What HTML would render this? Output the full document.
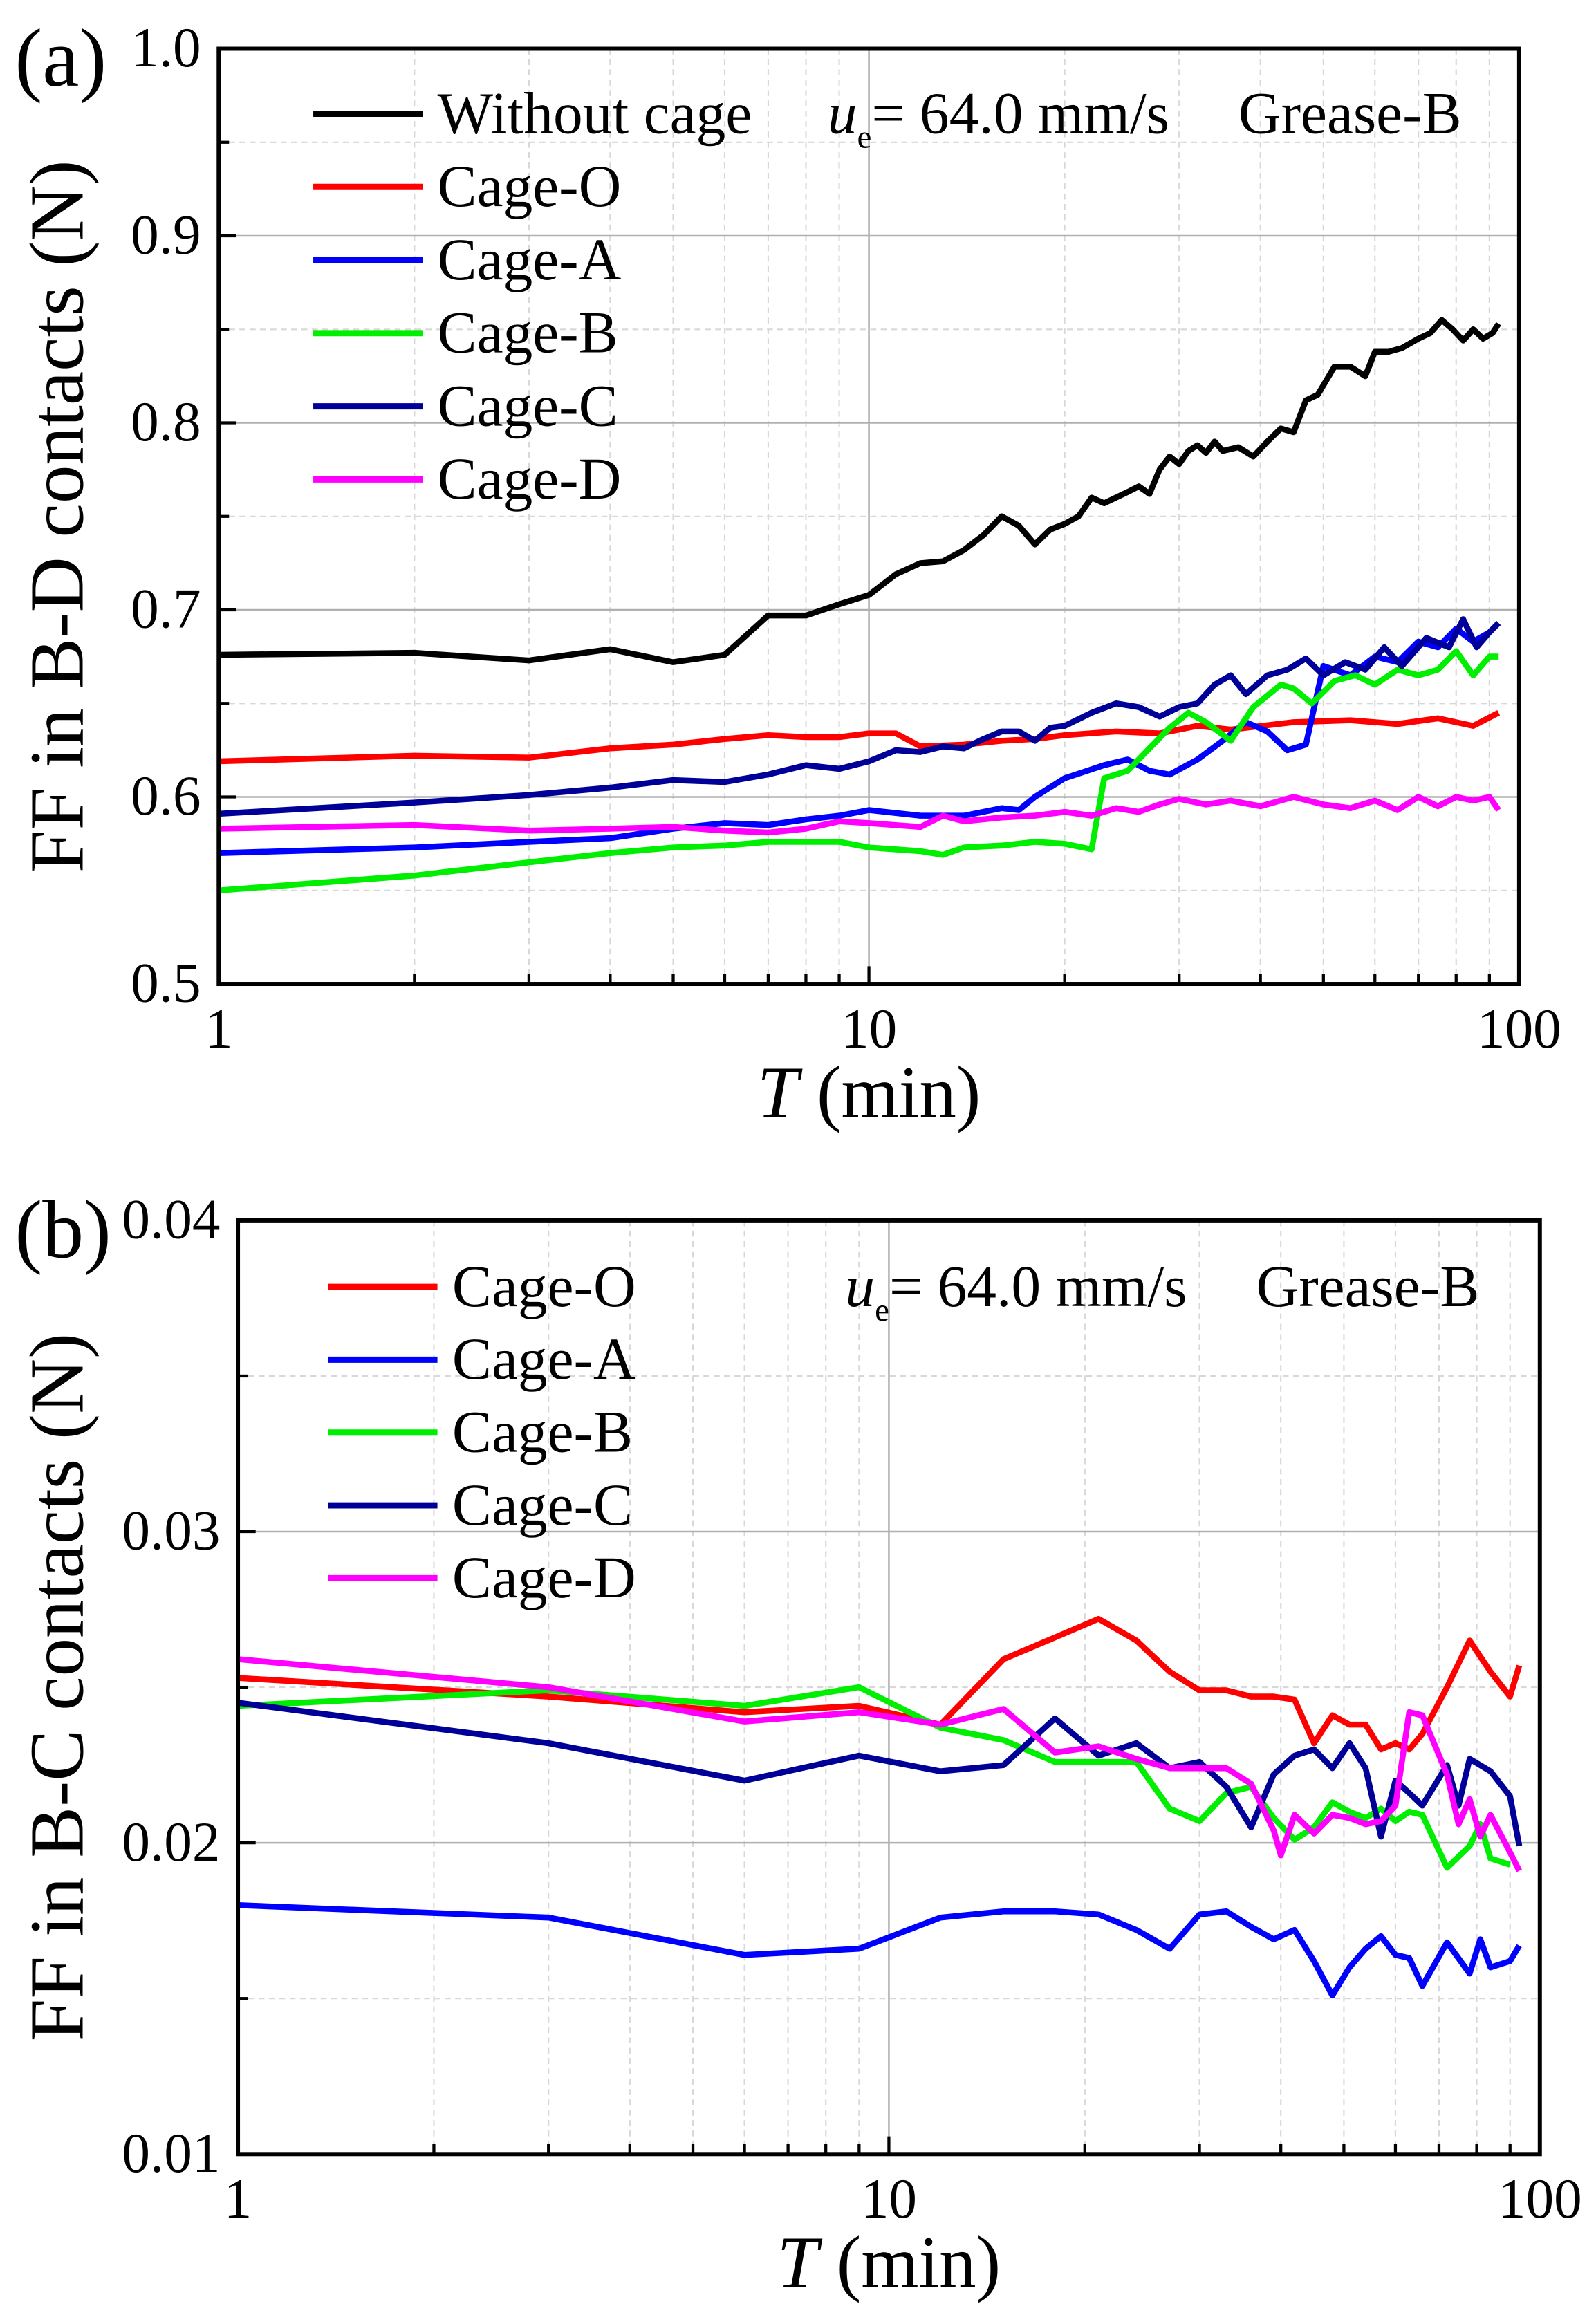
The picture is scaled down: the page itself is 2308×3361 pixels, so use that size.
<!DOCTYPE html>
<html><head><meta charset="utf-8"><style>
html,body{margin:0;padding:0;background:#fff}
svg{display:block}
text{font-family:"Liberation Serif",serif;fill:#000}
</style></head><body>
<svg id="chart" width="2308" height="3361" viewBox="0 0 1080 1573" preserveAspectRatio="none" xmlns="http://www.w3.org/2000/svg">
</svg>
<script>
// ---------- Panel (a) data ----------
const aSeriesNames = ["Without cage","Cage-O","Cage-A","Cage-B","Cage-C","Cage-D"];
const aColors = ["#000000","#ff0000","#0000ff","#00ee00","#000099","#ff00ff"];
const aNoCageX = [1,2,3,4,5,6,7,8,9,10,11,12,13,14,15,16,17,18,19,20,21,22,23,25,26,27,28,29,30,31,32,33,34,35,37,39,41,43,45,47,49,52,55,58,60,63,66,70,73,76,79,82,85,88,91,93];
const aNoCageY = [0.676,0.677,0.673,0.679,0.672,0.676,0.697,0.697,0.703,0.708,0.719,0.725,0.726,0.732,0.740,0.750,0.745,0.735,0.743,0.746,0.750,0.760,0.757,0.763,0.766,0.762,0.775,0.782,0.778,0.785,0.788,0.784,0.790,0.785,0.787,0.782,0.790,0.797,0.795,0.812,0.815,0.830,0.830,0.825,0.838,0.838,0.840,0.845,0.848,0.855,0.850,0.844,0.850,0.845,0.848,0.853];
const aOX = [1,2,3,4,5,6,7,8,9,10,11,12,14,16,18,20,24,28,32,36,45,55,65,75,85,93];
const aOY = [0.619,0.622,0.621,0.626,0.628,0.631,0.633,0.632,0.632,0.634,0.634,0.627,0.628,0.630,0.631,0.633,0.635,0.634,0.638,0.636,0.640,0.641,0.639,0.642,0.638,0.645];
const aAX = [1,2,3,4,5,6,7,8,9,10,12,14,16,17,18,20,23,25,27,29,32,35,38,41,44,47,50,55,60,65,70,75,80,85,90,93];
const aAY = [0.570,0.573,0.576,0.578,0.583,0.586,0.585,0.588,0.590,0.593,0.590,0.590,0.594,0.593,0.600,0.610,0.617,0.620,0.614,0.612,0.620,0.630,0.640,0.635,0.625,0.628,0.670,0.665,0.675,0.672,0.683,0.680,0.690,0.683,0.688,0.693];
const aBX = [1,2,3,4,5,6,7,8,9,10,12,13,14,16,18,20,22,23,25,27,29,31,33,36,39,43,45,48,52,56,60,65,70,75,80,85,90,93];
const aBY = [0.550,0.558,0.565,0.570,0.573,0.574,0.576,0.576,0.576,0.573,0.571,0.569,0.573,0.574,0.576,0.575,0.572,0.610,0.614,0.626,0.637,0.645,0.640,0.630,0.648,0.660,0.658,0.650,0.662,0.665,0.660,0.668,0.665,0.668,0.678,0.665,0.675,0.675];
const aCX = [1,2,3,4,5,6,7,8,9,10,11,12,13,14,15,16,17,18,19,20,22,24,26,28,30,32,34,36,38,41,44,47,50,54,58,62,66,72,78,82,86,90,93];
const aCY = [0.591,0.597,0.601,0.605,0.609,0.608,0.612,0.617,0.615,0.619,0.625,0.624,0.627,0.626,0.631,0.635,0.635,0.630,0.637,0.638,0.645,0.650,0.648,0.643,0.648,0.650,0.660,0.665,0.655,0.665,0.668,0.674,0.665,0.672,0.668,0.680,0.670,0.685,0.680,0.695,0.680,0.688,0.693];
const aDX = [1,2,3,4,5,6,7,8,9,10,12,13,14,16,18,20,22,24,26,28,30,33,36,40,45,50,55,60,65,70,75,80,85,90,93];
const aDY = [0.583,0.585,0.582,0.583,0.584,0.582,0.581,0.583,0.587,0.586,0.584,0.590,0.587,0.589,0.590,0.592,0.590,0.594,0.592,0.596,0.599,0.596,0.598,0.595,0.600,0.596,0.594,0.598,0.593,0.600,0.595,0.600,0.598,0.600,0.593];
const aYTicks = [0.5,0.6,0.7,0.8,0.9,1.0];
const aYTickLabels = ["0.5","0.6","0.7","0.8","0.9","1.0"];

// ---------- Panel (b) data ----------
const bSeriesNames = ["Cage-O","Cage-A","Cage-B","Cage-C","Cage-D"];
const bColors = ["#ff0000","#0000ff","#00ee00","#000099","#ff00ff"];
const bOX = [1,3,6,9,12,15,18,21,24,27,30,33,36,39,42,45,48,51,54,57,60,63,66,72,78,84,90,93];
const bOY = [0.0253,0.0247,0.0242,0.0244,0.0238,0.0259,0.0266,0.0272,0.0265,0.0255,0.0249,0.0249,0.0247,0.0247,0.0246,0.0232,0.0241,0.0238,0.0238,0.0230,0.0232,0.0230,0.0235,0.0250,0.0265,0.0255,0.0247,0.0257];
const bAX = [1,3,6,9,12,15,18,21,24,27,30,33,36,39,42,45,48,51,54,57,60,63,66,72,78,81,84,90,93];
const bAY = [0.0180,0.0176,0.0164,0.0166,0.0176,0.0178,0.0178,0.0177,0.0172,0.0166,0.0177,0.0178,0.0173,0.0169,0.0172,0.0162,0.0151,0.0160,0.0166,0.0170,0.0164,0.0163,0.0154,0.0168,0.0158,0.0169,0.0160,0.0162,0.0167];
const bBX = [1,3,6,9,12,15,18,21,24,27,30,33,36,39,42,45,48,51,54,57,60,63,66,72,78,81,84,90];
const bBY = [0.0244,0.0249,0.0244,0.0250,0.0237,0.0233,0.0226,0.0226,0.0226,0.0211,0.0207,0.0216,0.0218,0.0208,0.0201,0.0205,0.0213,0.0210,0.0208,0.0211,0.0207,0.0210,0.0209,0.0192,0.0199,0.0206,0.0195,0.0193];
const bCX = [1,3,6,9,12,15,18,21,24,27,30,33,36,39,42,45,48,51,54,57,60,63,66,72,75,78,84,90,93];
const bCY = [0.0245,0.0232,0.0220,0.0228,0.0223,0.0225,0.0240,0.0228,0.0232,0.0224,0.0226,0.0218,0.0205,0.0222,0.0228,0.0230,0.0224,0.0232,0.0224,0.0202,0.0220,0.0216,0.0212,0.0225,0.0212,0.0227,0.0223,0.0215,0.0199];
const bDX = [1,3,6,9,12,15,18,21,24,27,30,33,36,39,40,42,45,48,51,54,57,60,63,66,72,75,78,81,84,90,93];
const bDY = [0.0259,0.0250,0.0239,0.0242,0.0238,0.0243,0.0229,0.0231,0.0227,0.0224,0.0224,0.0224,0.0219,0.0204,0.0196,0.0209,0.0203,0.0209,0.0208,0.0206,0.0207,0.0212,0.0242,0.0241,0.0222,0.0206,0.0214,0.0202,0.0209,0.0197,0.0191];
const bYTicks = [0.01,0.02,0.03,0.04];
const bYTickLabels = ["0.01","0.02","0.03","0.04"];
const xTickVals = [1,10,100];
const xTickLabels = ["1","10","100"];

const NS = "http://www.w3.org/2000/svg";
const svg = document.getElementById('chart');
function mk(tag, attrs, parent){const e=document.createElementNS(NS,tag);for(const k in attrs)e.setAttribute(k,attrs[k]);(parent||svg).appendChild(e);return e;}

function panel(cfg){
  const g = mk('g',{});
  
  
  const L=cfg.L,R=cfg.R,T=cfg.T,B=cfg.B;
  const xs = v => L + (R-L)*Math.log10(v)/2;
  const ys = v => B - (B-T)*(v-cfg.ymin)/(cfg.ymax-cfg.ymin);
  for(let d=1; d<100; d*=10){
    for(let m=2;m<=9;m++){
      const x=xs(d*m);
      const ln=mk('line',{x1:x,x2:x,y1:T,y2:B,stroke:'#d8d8d8','stroke-width':1,'stroke-dasharray':'4,3'},g);
      
      
      const tk=mk('line',{x1:x,x2:x,y1:B,y2:B-7,stroke:'#000','stroke-width':2},g);
      
      
    }
  }
  const vx=xs(10);
  const vg=mk('line',{x1:vx,x2:vx,y1:T,y2:B,stroke:'#b0b0b0','stroke-width':1.2},g);
  
  
  for(let i=0;i<cfg.yt.length;i++){
    const y=ys(cfg.yt[i]);
    if(i>0 && i<cfg.yt.length-1){
      const hl=mk('line',{x1:L,x2:R,y1:y,y2:y,stroke:'#b0b0b0','stroke-width':1.2},g);
      
      
    }
    if(i<cfg.yt.length-1){
      const ym=ys((cfg.yt[i]+cfg.yt[i+1])/2);
      const hm=mk('line',{x1:L,x2:R,y1:ym,y2:ym,stroke:'#d8d8d8','stroke-width':1,'stroke-dasharray':'4,3'},g);
      
      
      const mt=mk('line',{x1:L,x2:L+7,y1:ym,y2:ym,stroke:'#000','stroke-width':2},g);
      
      
    }
    const t=mk('line',{x1:L,x2:L+12,y1:y,y2:y,stroke:'#000','stroke-width':2},g);
    
    
    const tl=mk('text',{x:L-12,y:y+12,'text-anchor':'end','font-size':38},g);
    tl.textContent=cfg.ytl[i];
    
    
  }
  for(let i=0;i<xTickVals.length;i++){
    const x=xs(xTickVals[i]);
    const t=mk('line',{x1:x,x2:x,y1:B,y2:B-12,stroke:'#000','stroke-width':2},g);
    
    
    const tl=mk('text',{x:x,y:B+43,'text-anchor':'middle','font-size':38},g);
    tl.textContent=xTickLabels[i];
    
    
  }
  for(let s=0;s<cfg.series.length;s++){
    const [X,Y]=cfg.series[s];
    const pts=X.map((v,i)=>xs(v).toFixed(1)+','+ys(Y[i]).toFixed(1)).join(' ');
    const pl=mk('polyline',{points:pts,fill:'none',stroke:cfg.colors[s],'stroke-width':4,'stroke-linejoin':'round'},g);
    
    
    const ly=cfg.legY+s*cfg.legDy;
    const ll=mk('line',{x1:cfg.legX,x2:cfg.legX+74,y1:ly,y2:ly,stroke:cfg.colors[s],'stroke-width':4.2},g);
    
    
    const lt=mk('text',{x:cfg.legX+84,y:ly+13,'font-size':40},g);
    lt.textContent=cfg.names[s];
    
    
  }
  const fr=mk('rect',{x:L,y:T,width:R-L,height:B-T,fill:'none',stroke:'#000','stroke-width':2.8},g);
  
  
  const an=mk('text',{x:cfg.annX,y:cfg.legY+13,'font-size':40},g);
  an.innerHTML='<tspan font-style="italic">u</tspan><tspan font-size="22" dy="10">e</tspan><tspan dy="-10">= 64.0 mm/s</tspan>';
  
  
  const gr=mk('text',{x:cfg.annX+278,y:cfg.legY+13,'font-size':40},g);
  gr.textContent='Grease-B';
  
  
  const pl=mk('text',{x:10,y:T+25,'font-size':56},g);
  pl.textContent=cfg.label;
  
  
  const xt=mk('text',{x:(L+R)/2,y:B+90,'text-anchor':'middle','font-size':50},g);
  xt.innerHTML='<tspan font-style="italic">T</tspan> (min)';
  
  
  const yt=mk('text',{x:0,y:0,'text-anchor':'middle','font-size':52,transform:'translate(56,'+((T+B)/2)+') rotate(-90)'},g);
  yt.textContent=cfg.ytitle;
  
  
}

panel({name:'panel-a',label:'(a)',L:148,R:1028,T:33,B:666,ymin:0.5,ymax:1.0,yt:aYTicks,ytl:aYTickLabels,
  series:[[aNoCageX,aNoCageY],[aOX,aOY],[aAX,aAY],[aBX,aBY],[aCX,aCY],[aDX,aDY]],
  colors:aColors,names:aSeriesNames,legX:212,legY:77,legDy:49.5,annX:560,ytitle:'FF in B-D contacts (N)'});
panel({name:'panel-b',label:'(b)',L:161,R:1042,T:826,B:1458,ymin:0.01,ymax:0.04,yt:bYTicks,ytl:bYTickLabels,
  series:[[bOX,bOY],[bAX,bAY],[bBX,bBY],[bCX,bCY],[bDX,bDY]],
  colors:bColors,names:bSeriesNames,legX:222,legY:871,legDy:49.3,annX:572,ytitle:'FF in B-C contacts (N)'});
</script>
</body></html>
